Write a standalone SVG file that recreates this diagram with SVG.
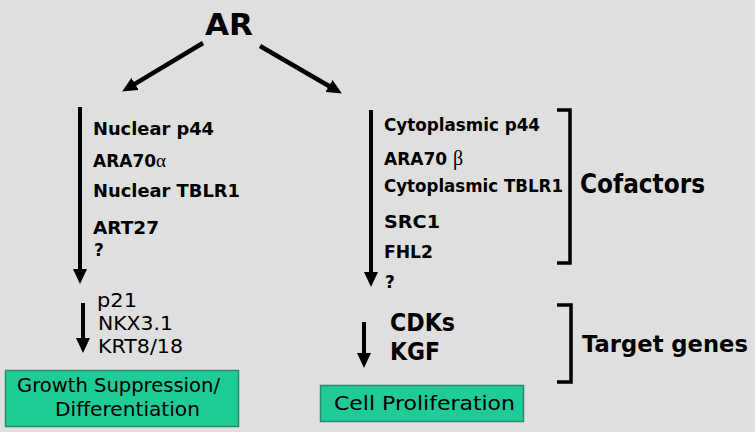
<svg xmlns="http://www.w3.org/2000/svg" width="755" height="432" viewBox="0 0 755 432">
<defs>
<style>
.b{font-family:"DejaVu Sans","Liberation Sans",sans-serif;font-weight:bold;fill:#000}
.n{font-family:"DejaVu Sans","Liberation Sans",sans-serif;font-weight:normal;fill:#000}
.g{font-family:"Liberation Serif",serif;font-weight:normal}
.ln{stroke:#000;fill:none}
.box{fill:#1fcb97;stroke:#2b8a6c;stroke-width:1.5}
</style>
<marker id="ah" markerUnits="userSpaceOnUse" markerWidth="16" markerHeight="14" refX="4" refY="7" orient="auto">
<path d="M0,0 L15,7 L0,14 z" fill="#000"/>
</marker>
</defs>
<rect width="755" height="432" fill="#dfdfdf"/>
<g id="connectors">
<line class="ln" x1="203" y1="43" x2="131.6" y2="85.9" stroke-width="4.5" marker-end="url(#ah)"/>
<line class="ln" x1="260" y1="46" x2="332.4" y2="88" stroke-width="4.5" marker-end="url(#ah)"/>
<line class="ln" x1="80" y1="107" x2="80" y2="273" stroke-width="4" marker-end="url(#ah)"/>
<line class="ln" x1="371" y1="110" x2="371" y2="276" stroke-width="4" marker-end="url(#ah)"/>
<line class="ln" x1="83" y1="303" x2="83" y2="342" stroke-width="4" marker-end="url(#ah)"/>
<line class="ln" x1="364" y1="322" x2="364" y2="357" stroke-width="4" marker-end="url(#ah)"/>
<path class="ln" d="M557,110 H570 V263 H557" stroke-width="3.5"/>
<path class="ln" d="M557,305 H571 V382 H557" stroke-width="3.5"/>
</g>
<g id="ar"><text class="b" x="205" y="35" font-size="30" textLength="48" lengthAdjust="spacingAndGlyphs">AR</text></g>
<g id="nuclear-cofactors">
<text class="b" x="93" y="135" font-size="17" textLength="121" lengthAdjust="spacingAndGlyphs">Nuclear p44</text>
<text class="b" x="93" y="167" font-size="17">ARA70<tspan class="g" font-size="19">α</tspan></text>
<text class="b" x="93" y="197" font-size="17" textLength="147" lengthAdjust="spacingAndGlyphs">Nuclear TBLR1</text>
<text class="b" x="93" y="234" font-size="17" textLength="66" lengthAdjust="spacingAndGlyphs">ART27</text>
<text class="b" x="94" y="256" font-size="17">?</text>
</g>
<g id="cytoplasmic-cofactors">
<text class="b" x="384" y="131" font-size="17" textLength="156" lengthAdjust="spacingAndGlyphs">Cytoplasmic p44</text>
<text class="b" x="384" y="165" font-size="17">ARA70 <tspan class="g" font-size="20">β</tspan></text>
<text class="b" x="384" y="192" font-size="17" textLength="179" lengthAdjust="spacingAndGlyphs">Cytoplasmic TBLR1</text>
<text class="b" x="384" y="228" font-size="17" textLength="56" lengthAdjust="spacingAndGlyphs">SRC1</text>
<text class="b" x="384" y="258" font-size="17" textLength="49" lengthAdjust="spacingAndGlyphs">FHL2</text>
<text class="b" x="385" y="288" font-size="17">?</text>
</g>
<g id="cofactors-label"><text class="b" x="580" y="193" font-size="26" textLength="125" lengthAdjust="spacingAndGlyphs">Cofactors</text></g>
<g id="left-targets">
<text class="n" x="97" y="307" font-size="19" textLength="40" lengthAdjust="spacingAndGlyphs">p21</text>
<text class="n" x="98" y="330" font-size="19" textLength="75" lengthAdjust="spacingAndGlyphs">NKX3.1</text>
<text class="n" x="98" y="353" font-size="19" textLength="85" lengthAdjust="spacingAndGlyphs">KRT8/18</text>
</g>
<g id="right-targets">
<text class="b" x="390" y="331" font-size="24" textLength="65" lengthAdjust="spacingAndGlyphs">CDKs</text>
<text class="b" x="390" y="360" font-size="24" textLength="50" lengthAdjust="spacingAndGlyphs">KGF</text>
</g>
<g id="target-genes-label"><text class="b" x="582" y="352" font-size="23" textLength="166" lengthAdjust="spacingAndGlyphs">Target genes</text></g>
<g id="growth-suppression">
<rect class="box" x="5.5" y="370.5" width="233" height="56"/>
<text class="n" x="17" y="392" font-size="19" textLength="203" lengthAdjust="spacingAndGlyphs">Growth Suppression/</text>
<text class="n" x="55" y="416" font-size="19" textLength="145" lengthAdjust="spacingAndGlyphs">Differentiation</text>
</g>
<g id="cell-proliferation">
<rect class="box" x="320.5" y="385.5" width="203" height="36"/>
<text class="n" x="334" y="410" font-size="20" textLength="181" lengthAdjust="spacingAndGlyphs">Cell Proliferation</text>
</g>
</svg>
